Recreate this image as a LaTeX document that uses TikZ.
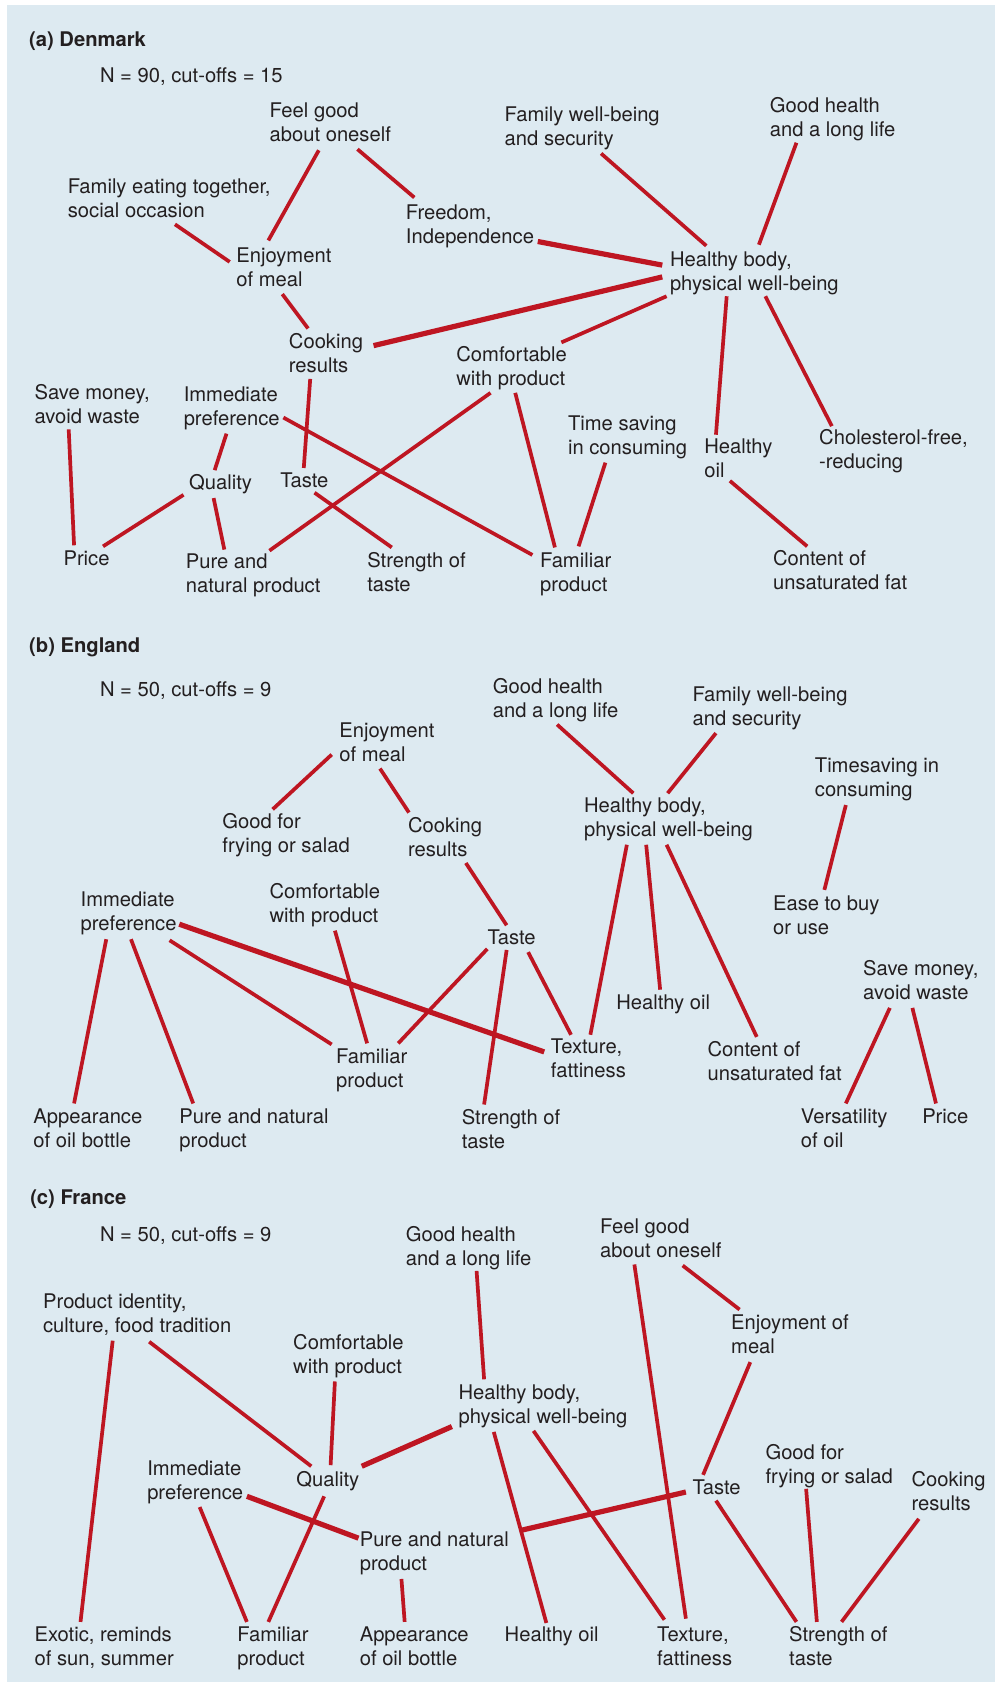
\documentclass[tikz,border=0pt]{standalone}
\usepackage{fontspec}
\setmainfont{TeX Gyre Heros}
\definecolor{panelblue}{RGB}{221,234,241}
\definecolor{linkred}{RGB}{190,22,34}
\definecolor{inkgray}{RGB}{35,31,32}
\begin{document}
\begin{tikzpicture}[x=1.0733pt,y=-1.0733pt,
	lbl/.style={anchor=north west,inner sep=0pt,align=left,text=inkgray,font=\fontsize{20.2}{24}\selectfont},
	panel/.style={lbl,font=\fontsize{20.2}{24}\selectfont\bfseries},
	link/.style={draw=linkred,line width=3.7pt},
	strong/.style={draw=linkred,line width=5.2pt}]
		\useasboundingbox (0,0) rectangle (927,1567);
		\fill[panelblue] (6.5,4.7) rectangle (927,1567);

		% (a) Denmark
		\node[panel] (aTitle) at (27,29) {(a) Denmark};
		\node[lbl] (aN) at (93,63) {N = 90, cut-offs = 15};
		\node[lbl] (aFeel) at (251,96) {Feel good\\about oneself};
		\node[lbl] (aFamWell) at (470,99) {Family well-being\\and security};
		\node[lbl] (aHealth) at (717,91) {Good health\\and a long life};
		\node[lbl] (aFamEat) at (63,166) {Family eating together,\\social occasion};
		\node[lbl] (aFree) at (378,191) {Freedom,\\Independence};
		\node[lbl] (aEnjoy) at (220,231) {Enjoyment\\of meal};
		\node[lbl] (aBody) at (624,234) {Healthy body,\\physical well-being};
		\node[lbl] (aCook) at (269,310) {Cooking\\results};
		\node[lbl] (aComf) at (425,323) {Comfortable\\with product};
		\node[lbl] (aSave) at (32,358) {Save money,\\avoid waste};
		\node[lbl] (aImm) at (171,360) {Immediate\\preference};
		\node[lbl] (aTime) at (529,387) {Time saving\\in consuming};
		\node[lbl] (aOil) at (656,409) {Healthy\\oil};
		\node[lbl] (aChol) at (763,400) {Cholesterol-free,\\-reducing};
		\node[lbl] (aQual) at (176,442) {Quality};
		\node[lbl] (aTaste) at (261,440) {Taste};
		\node[lbl] (aPrice) at (59,513) {Price};
		\node[lbl] (aPure) at (173,516) {Pure and\\natural product};
		\node[lbl] (aStr) at (342,514) {Strength of\\taste};
		\node[lbl] (aFam) at (503,515) {Familiar\\product};
		\node[lbl] (aCont) at (720,513) {Content of\\unsaturated fat};

		\foreach \p/\px/\py/\q/\qx/\qy in {
			aFeel/46/44/aEnjoy/30/-7, aFeel/82/43/aFree/8/-7,
			aFamEat/100/43/aEnjoy/-6/13, aEnjoy/43/43/aCook/18/-4,
			aFamWell/90/44/aBody/34/-5, aHealth/25/42/aBody/83/-6,
			aComf/98/-4/aBody/-3/42, aBody/53/42/aOil/11/-4,
			aBody/89/42/aChol/12/-3, aOil/24/39/aCont/32/-4,
			aCook/20/43/aTaste/22/-4, aImm/40/44/aQual/24/-4,
			aImm/93/29/aFam/-7/2, aComf/32/43/aPure/78/-3,
			aComf/55/43/aFam/14/-5, aTime/35/44/aFam/36/-6,
			aSave/32/42/aPrice/10/-5, aQual/-5/19/aPrice/37/-4,
			aQual/23/22/aPure/36/-4, aTaste/32/19/aStr/23/-4}{
			\draw[link] ([shift={(\px,\py)}]\p.north west) -- ([shift={(\qx,\qy)}]\q.north west);
		}
		\draw[strong] ([shift={(123,34)}]aFree.north west) -- ([shift={(-7,13)}]aBody.north west);
		\draw[strong] ([shift={(79,12)}]aCook.north west) -- ([shift={(-7,24)}]aBody.north west);

		% (b) England
		\node[panel] (bTitle) at (27,594) {(b) England};
		\node[lbl] (bN) at (93,635) {N = 50, cut-offs = 9};
		\node[lbl] (bHealth) at (459,632) {Good health\\and a long life};
		\node[lbl] (bFamWell) at (645,640) {Family well-being\\and security};
		\node[lbl] (bEnjoy) at (316,673) {Enjoyment\\of meal};
		\node[lbl] (bTime) at (759,706) {Timesaving in\\consuming};
		\node[lbl] (bGood) at (207,758) {Good for\\frying or salad};
		\node[lbl] (bCook) at (380,761) {Cooking\\results};
		\node[lbl] (bBody) at (544,743) {Healthy body,\\physical well-being};
		\node[lbl] (bComf) at (251,823) {Comfortable\\with product};
		\node[lbl] (bImm) at (75,831) {Immediate\\preference};
		\node[lbl] (bEase) at (720,834) {Ease to buy\\or use};
		\node[lbl] (bTaste) at (454,866) {Taste};
		\node[lbl] (bOil) at (574,927) {Healthy oil};
		\node[lbl] (bSave) at (804,895) {Save money,\\avoid waste};
		\node[lbl] (bFam) at (313,977) {Familiar\\product};
		\node[lbl] (bText) at (513,968) {Texture,\\fattiness};
		\node[lbl] (bCont) at (659,970) {Content of\\unsaturated fat};
		\node[lbl] (bApp) at (31,1033) {Appearance\\of oil bottle};
		\node[lbl] (bPure) at (167,1033) {Pure and natural\\product};
		\node[lbl] (bStr) at (430,1033) {Strength of\\taste};
		\node[lbl] (bVers) at (746,1033) {Versatility\\of oil};
		\node[lbl] (bPrice) at (859,1033) {Price};

		\foreach \p/\px/\py/\q/\qx/\qy in {
			bEnjoy/-7/30/bGood/47/-4, bEnjoy/38/43/bCook/1/-4,
			bHealth/60/43/bBody/46/-4, bFamWell/22/43/bBody/78/-4,
			bTime/29/44/bEase/48/-5, bCook/54/43/bTaste/18/-4,
			bBody/40/44/bText/37/-4, bBody/58/44/bOil/41/-5,
			bBody/77/44/bCont/46/-4, bComf/61/44/bFam/29/-5,
			bTaste/0/18/bFam/58/-5, bTaste/18/19/bStr/21/-4,
			bTaste/38/21/bText/19/-4, bImm/24/44/bApp/38/-5,
			bImm/47/44/bPure/13/-5, bImm/83/45/bFam/-4/-4,
			bSave/25/44/bVers/42/-5, bSave/46/44/bPrice/13/-5}{
			\draw[link] ([shift={(\px,\py)}]\p.north west) -- ([shift={(\qx,\qy)}]\q.north west);
		}
		\draw[strong] ([shift={(92,30)}]bImm.north west) -- ([shift={(-6,12)}]bText.north west);

		% (c) France
		\node[panel] (cTitle) at (28,1108) {(c) France};
		\node[lbl] (cN) at (93,1143) {N = 50, cut-offs = 9};
		\node[lbl] (cHealth) at (378,1142) {Good health\\and a long life};
		\node[lbl] (cFeel) at (559,1135) {Feel good\\about oneself};
		\node[lbl] (cIdent) at (40,1205) {Product identity,\\culture, food tradition};
		\node[lbl] (cEnjoy) at (681,1225) {Enjoyment of\\meal};
		\node[lbl] (cComf) at (273,1243) {Comfortable\\with product};
		\node[lbl] (cBody) at (427,1290) {Healthy body,\\physical well-being};
		\node[lbl] (cGood) at (713,1345) {Good for\\frying or salad};
		\node[lbl] (cImm) at (137,1361) {Immediate\\preference};
		\node[lbl] (cQual) at (276,1371) {Quality};
		\node[lbl] (cCook) at (849,1371) {Cooking\\results};
		\node[lbl] (cTaste) at (645,1378) {Taste};
		\node[lbl] (cPure) at (335,1427) {Pure and natural\\product};
		\node[lbl] (cExotic) at (32,1515) {Exotic, reminds\\of sun, summer};
		\node[lbl] (cFam) at (221,1515) {Familiar\\product};
		\node[lbl] (cApp) at (335,1515) {Appearance\\of oil bottle};
		\node[lbl] (cOil) at (470,1515) {Healthy oil};
		\node[lbl] (cText) at (612,1515) {Texture,\\fattiness};
		\node[lbl] (cStr) at (735,1515) {Strength of\\taste};

		\foreach \p/\px/\py/\q/\qx/\qy in {
			cHealth/66/42/cBody/24/-5, cFeel/32/43/cText/27/-7,
			cFeel/77/44/cEnjoy/8/-5, cEnjoy/18/44/cTaste/10/-4,
			cIdent/65/44/cExotic/43/-4, cIdent/99/45/cQual/14/-5,
			cComf/39/44/cQual/32/-6, cBody/33/44/cOil/39/-3,
			cBody/70/43/cText/7/-6, cImm/49/43/cFam/9/-4,
			cQual/26/23/cFam/29/-4, cPure/39/44/cApp/42/-4,
			cTaste/22/20/cStr/7/-4, cGood/38/42/cStr/26/-4,
			cCook/7/44/cStr/49/-4}{
			\draw[link] ([shift={(\px,\py)}]\p.north west) -- ([shift={(\qx,\qy)}]\q.north west);
		}
		\draw[strong] ([shift={(-6,39)}]cBody.north west) -- ([shift={(61,-5)}]cQual.north west);
		\draw[strong] ([shift={(93,33)}]cImm.north west) -- ([shift={(-1,6)}]cPure.north west);
		\draw[strong] ([shift={(-6,12)}]cTaste.north west) -- ([shift={(149,-1)}]cPure.north west);
\end{tikzpicture}
\end{document}
